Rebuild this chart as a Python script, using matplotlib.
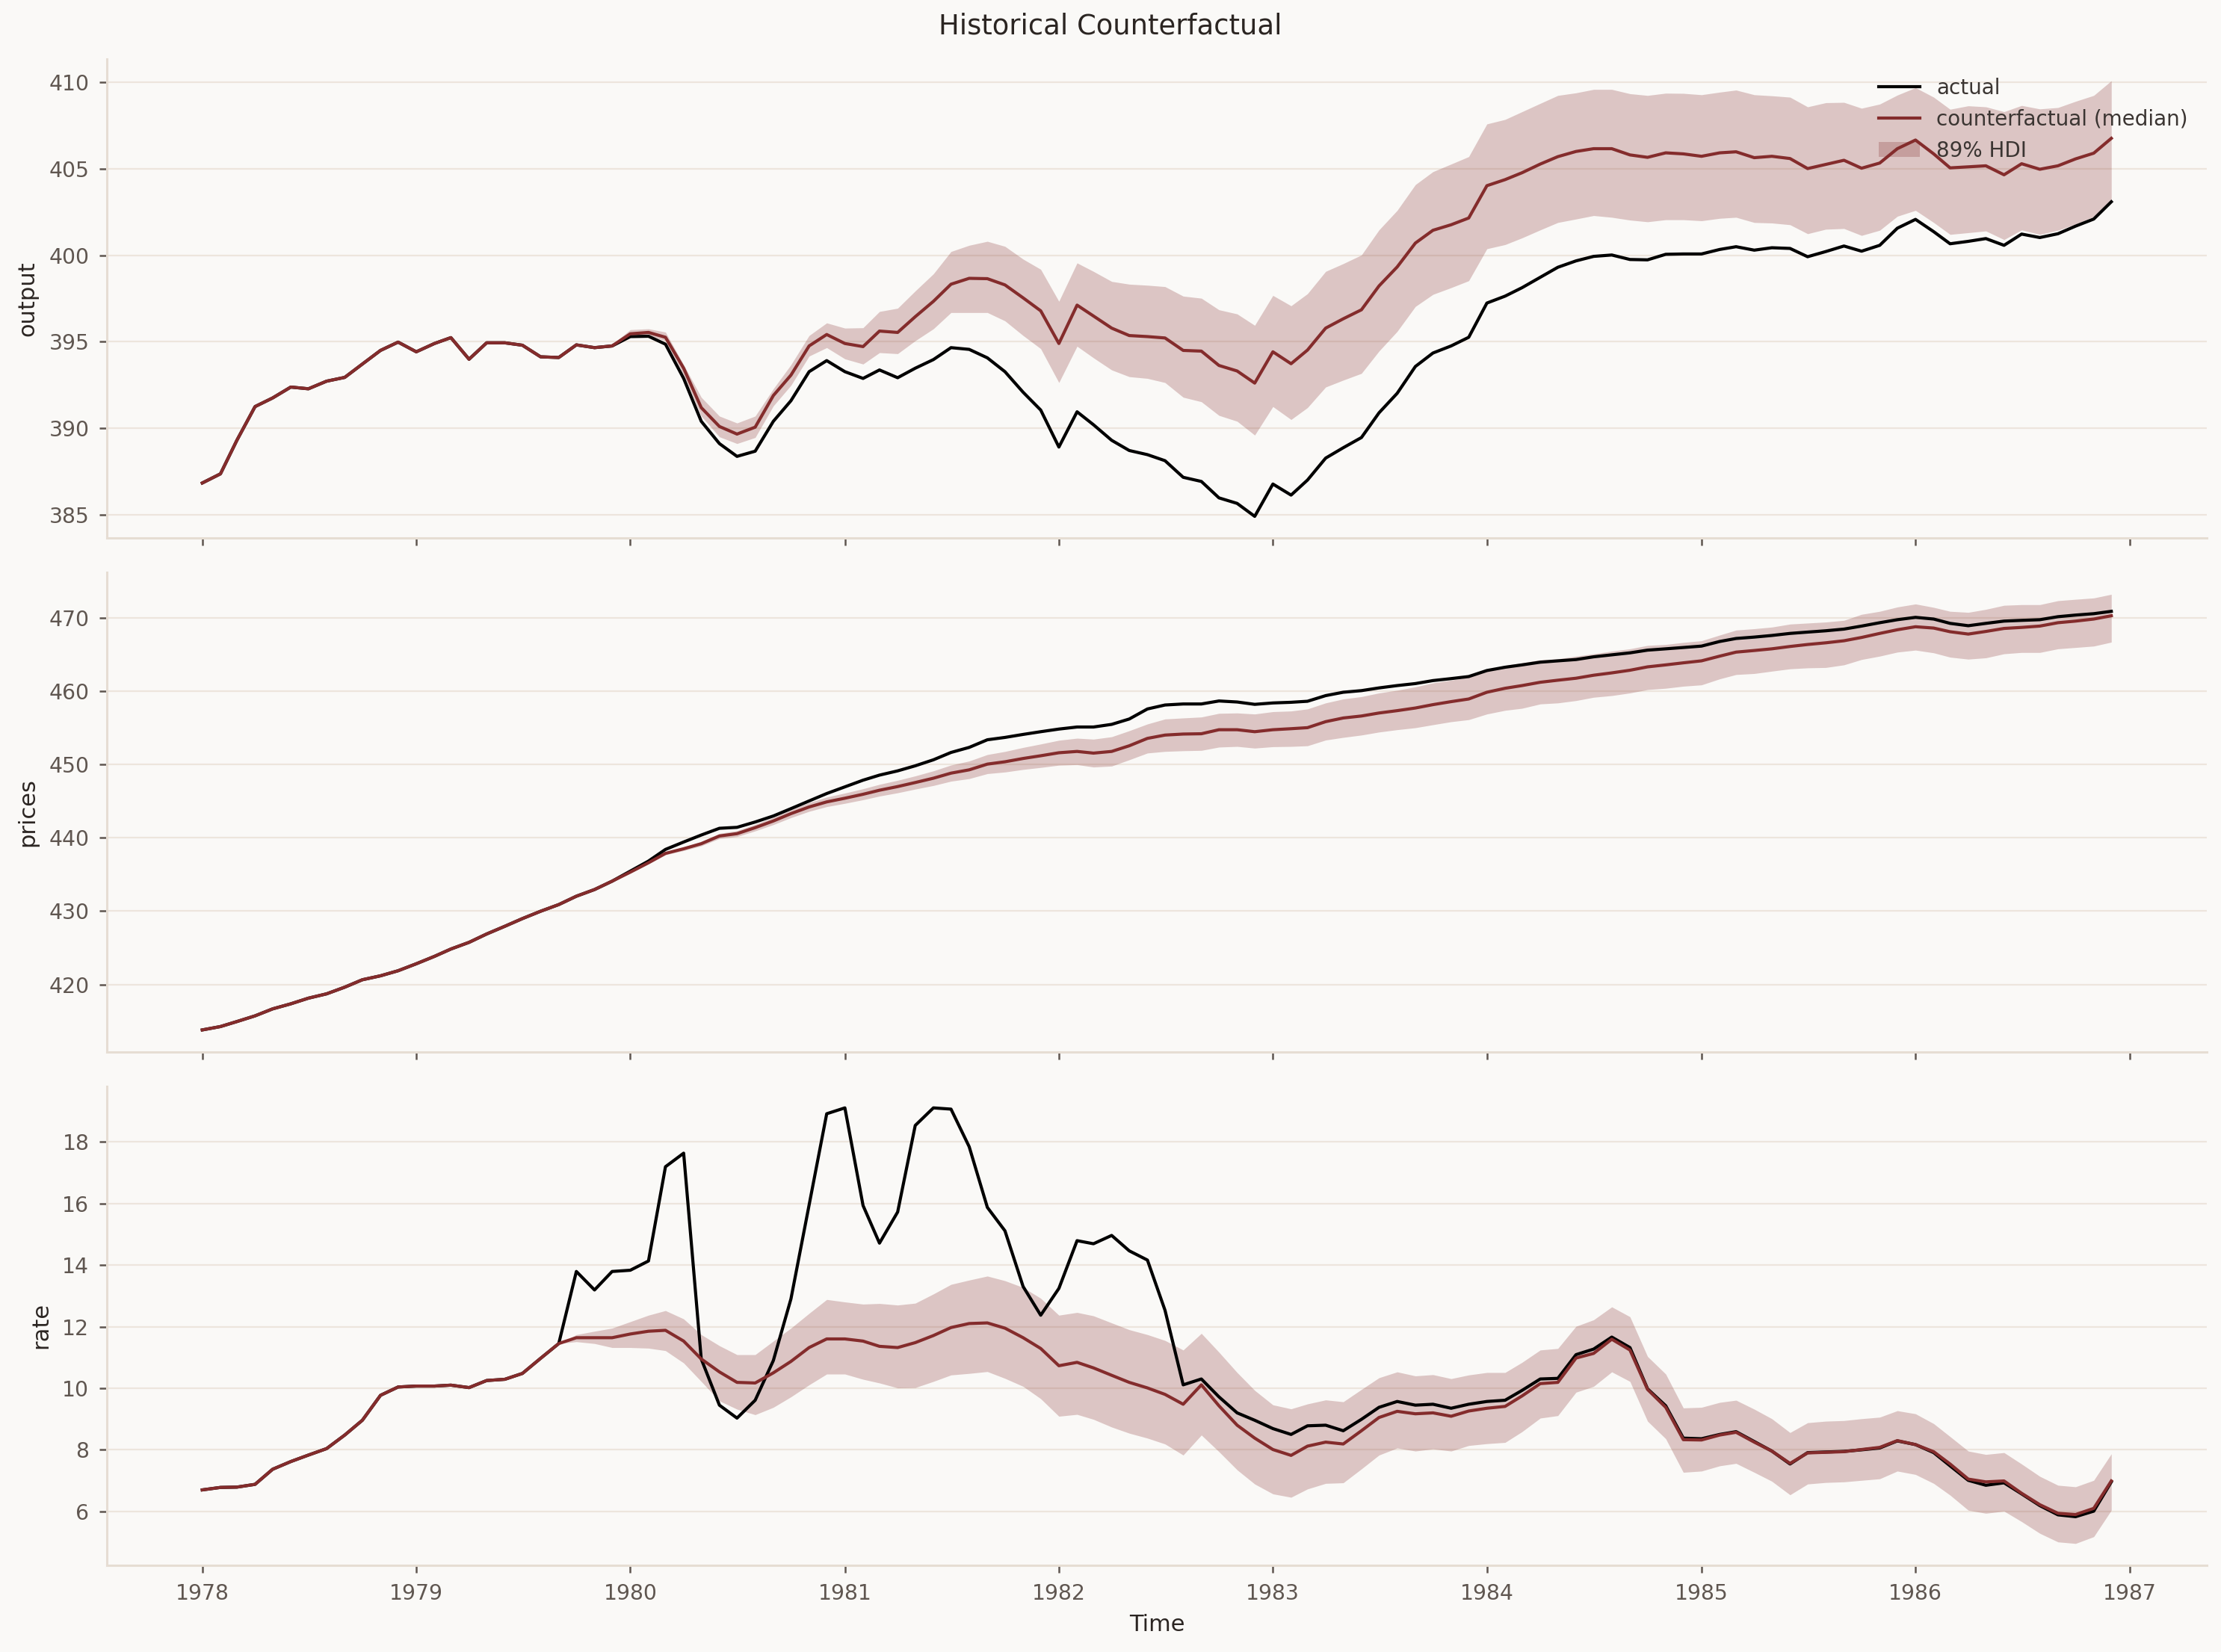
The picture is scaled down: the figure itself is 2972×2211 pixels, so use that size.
import matplotlib
matplotlib.use("Agg")
import matplotlib.pyplot as plt
import matplotlib.dates as mdates
from matplotlib.ticker import MultipleLocator
import pandas as pd

# ---------------- data ----------------
dates = pd.date_range("1978-01-01", periods=108, freq="MS")
hdi_start = 20  # HDI band drawn from 1979-09 onwards

output_actual = [
    386.83, 387.36, 389.3, 391.25, 391.75, 392.38, 392.28, 392.72, 392.94, 393.71, 394.5, 394.98,
    394.42, 394.9, 395.24, 393.99, 394.94, 394.94, 394.8, 394.13, 394.09, 394.82, 394.66, 394.76,
    395.3, 395.32, 394.86, 392.88, 390.4, 389.11, 388.37, 388.67, 390.4, 391.59, 393.27, 393.91,
    393.27, 392.88, 393.37, 392.92, 393.47, 393.97, 394.66, 394.56, 394.07, 393.27, 392.08, 391.05,
    388.91, 390.95, 390.2, 389.3, 388.71, 388.47, 388.12, 387.16, 386.92, 385.97, 385.65, 384.9,
    386.77, 386.13, 387.0, 388.27, 388.87, 389.46, 390.89, 392.02, 393.57, 394.35, 394.76, 395.26,
    397.24, 397.64, 398.13, 398.73, 399.31, 399.68, 399.94, 400.02, 399.76, 399.74, 400.06, 400.08,
    400.08, 400.34, 400.5, 400.3, 400.44, 400.4, 399.92, 400.22, 400.54, 400.24, 400.58, 401.57,
    402.08, 401.37, 400.67, 400.81, 400.97, 400.58, 401.23, 401.03, 401.25, 401.69, 402.1, 403.1]

output_cf = [
    386.83, 387.36, 389.3, 391.25, 391.75, 392.38, 392.28, 392.72, 392.94, 393.71, 394.5, 394.98,
    394.42, 394.9, 395.24, 393.99, 394.94, 394.94, 394.8, 394.13, 394.09, 394.82, 394.66, 394.76,
    395.46, 395.54, 395.26, 393.47, 391.19, 390.1, 389.66, 390.06, 391.89, 393.07, 394.76, 395.42,
    394.9, 394.72, 395.62, 395.54, 396.45, 397.34, 398.33, 398.67, 398.65, 398.29, 397.54, 396.79,
    394.9, 397.12, 396.49, 395.79, 395.36, 395.3, 395.22, 394.5, 394.46, 393.63, 393.31, 392.61,
    394.42, 393.73, 394.52, 395.79, 396.33, 396.85, 398.23, 399.33, 400.71, 401.45, 401.77, 402.16,
    404.03, 404.38, 404.78, 405.28, 405.71, 406.01, 406.17, 406.17, 405.81, 405.67, 405.93, 405.87,
    405.73, 405.93, 405.99, 405.65, 405.73, 405.6, 405.02, 405.26, 405.5, 405.04, 405.34, 406.17,
    406.67, 405.87, 405.06, 405.12, 405.18, 404.66, 405.3, 404.98, 405.18, 405.58, 405.91, 406.77]

output_hdi_low = [
    394.08, 394.8, 394.6, 394.68,
    395.26, 395.36, 395.06, 393.07, 390.7, 389.5, 389.11, 389.46, 391.29, 392.48, 394.17, 394.66,
    394.01, 393.71, 394.37, 394.31, 395.06, 395.75, 396.69, 396.69, 396.69, 396.21, 395.36, 394.6,
    392.64, 394.74, 394.07, 393.37, 392.98, 392.88, 392.64, 391.79, 391.53, 390.74, 390.4, 389.6,
    391.25, 390.5, 391.19, 392.38, 392.78, 393.17, 394.46, 395.6, 397.04, 397.74, 398.13, 398.53,
    400.38, 400.62, 401.01, 401.47, 401.9, 402.1, 402.3, 402.2, 402.04, 401.94, 402.06, 402.06,
    402.0, 402.14, 402.2, 401.9, 401.87, 401.77, 401.25, 401.51, 401.55, 401.15, 401.45, 402.26,
    402.6, 401.9, 401.21, 401.31, 401.41, 400.91, 401.47, 401.21, 401.45, 401.81, 402.24, 403.19]

output_hdi_high = [
    394.1, 394.85, 394.72, 394.85,
    395.7, 395.75, 395.56, 393.67, 391.79, 390.7, 390.3, 390.7, 392.28, 393.67, 395.36, 396.09,
    395.79, 395.81, 396.75, 396.94, 397.94, 398.93, 400.22, 400.58, 400.81, 400.52, 399.78, 399.19,
    397.34, 399.56, 399.07, 398.49, 398.33, 398.27, 398.19, 397.64, 397.52, 396.85, 396.61, 395.95,
    397.68, 397.08, 397.78, 399.07, 399.52, 400.02, 401.47, 402.6, 404.09, 404.84, 405.28, 405.71,
    407.6, 407.86, 408.31, 408.79, 409.25, 409.4, 409.6, 409.6, 409.35, 409.25, 409.38, 409.37,
    409.29, 409.44, 409.56, 409.29, 409.23, 409.15, 408.59, 408.83, 408.85, 408.51, 408.75, 409.27,
    409.7, 409.15, 408.45, 408.65, 408.59, 408.31, 408.67, 408.47, 408.55, 408.91, 409.25, 410.1]

prices_actual = [
    413.8, 414.26, 414.94, 415.72, 416.67, 417.36, 418.13, 418.72, 419.63, 420.64, 421.18, 421.87,
    422.82, 423.83, 424.83, 425.74, 426.88, 427.93, 428.98, 429.98, 430.89, 432.03, 432.94, 434.08,
    435.45, 436.82, 438.41, 439.42, 440.37, 441.29, 441.42, 442.15, 442.97, 443.97, 445.02, 446.03,
    446.94, 447.85, 448.54, 449.12, 449.81, 450.63, 451.63, 452.32, 453.36, 453.68, 454.09, 454.46,
    454.82, 455.1, 455.1, 455.46, 456.19, 457.56, 458.1, 458.24, 458.24, 458.65, 458.51, 458.19,
    458.38, 458.47, 458.61, 459.38, 459.84, 460.06, 460.43, 460.75, 461.02, 461.43, 461.7, 461.98,
    462.8, 463.25, 463.57, 463.94, 464.12, 464.3, 464.67, 464.94, 465.21, 465.58, 465.76, 465.94,
    466.13, 466.76, 467.17, 467.36, 467.58, 467.86, 468.04, 468.22, 468.45, 468.86, 469.32, 469.73,
    470.05, 469.82, 469.23, 468.91, 469.23, 469.54, 469.64, 469.73, 470.14, 470.36, 470.55, 470.87]

prices_cf = [
    413.8, 414.26, 414.94, 415.72, 416.67, 417.36, 418.13, 418.72, 419.63, 420.64, 421.18, 421.87,
    422.82, 423.83, 424.83, 425.74, 426.88, 427.93, 428.98, 429.98, 430.89, 432.03, 432.94, 434.08,
    435.31, 436.59, 437.87, 438.5, 439.19, 440.24, 440.56, 441.38, 442.29, 443.29, 444.2, 444.89,
    445.39, 445.93, 446.48, 446.98, 447.53, 448.12, 448.81, 449.26, 450.04, 450.36, 450.81, 451.18,
    451.59, 451.77, 451.54, 451.77, 452.54, 453.55, 454.0, 454.14, 454.18, 454.73, 454.73, 454.46,
    454.73, 454.87, 455.01, 455.83, 456.33, 456.6, 457.01, 457.33, 457.69, 458.15, 458.56, 458.92,
    459.84, 460.38, 460.75, 461.2, 461.48, 461.75, 462.16, 462.48, 462.84, 463.3, 463.57, 463.85,
    464.12, 464.76, 465.31, 465.53, 465.76, 466.08, 466.35, 466.58, 466.86, 467.31, 467.86, 468.36,
    468.77, 468.59, 468.09, 467.77, 468.13, 468.54, 468.68, 468.86, 469.32, 469.54, 469.82, 470.27]

prices_hdi_low = [
    430.89, 432.01, 432.89, 434.0,
    435.19, 436.44, 437.67, 438.25, 438.89, 439.89, 440.16, 440.93, 441.79, 442.74, 443.6, 444.24,
    444.69, 445.18, 445.68, 446.13, 446.63, 447.12, 447.71, 448.06, 448.74, 448.96, 449.31, 449.58,
    449.89, 449.97, 449.64, 449.77, 450.63, 451.55, 451.77, 451.86, 451.91, 452.36, 452.45, 452.22,
    452.41, 452.45, 452.54, 453.32, 453.68, 454.0, 454.41, 454.73, 455.0, 455.41, 455.82, 456.1,
    456.87, 457.37, 457.65, 458.24, 458.38, 458.7, 459.15, 459.38, 459.74, 460.2, 460.38, 460.66,
    460.84, 461.66, 462.25, 462.39, 462.71, 463.03, 463.16, 463.21, 463.57, 464.3, 464.76, 465.31,
    465.58, 465.21, 464.62, 464.35, 464.53, 465.08, 465.26, 465.26, 465.76, 465.94, 466.13, 466.67]

prices_hdi_high = [
    430.89, 432.05, 432.99, 434.16,
    435.43, 436.74, 438.07, 438.75, 439.49, 440.59, 440.96, 441.83, 442.79, 443.84, 444.8, 445.54,
    446.09, 446.68, 447.28, 447.83, 448.43, 449.12, 449.91, 450.46, 451.34, 451.76, 452.31, 452.78,
    453.29, 453.57, 453.44, 453.77, 454.59, 455.51, 456.19, 456.33, 456.46, 456.96, 457.01, 456.87,
    457.19, 457.28, 457.56, 458.38, 458.92, 459.24, 459.74, 460.11, 460.57, 461.11, 461.48, 461.89,
    462.94, 463.49, 463.85, 464.26, 464.39, 464.76, 465.08, 465.44, 465.76, 466.22, 466.35, 466.63,
    466.86, 467.63, 468.31, 468.5, 468.72, 469.13, 469.27, 469.41, 469.64, 470.46, 470.87, 471.46,
    471.87, 471.41, 470.87, 470.73, 471.14, 471.69, 471.78, 471.78, 472.32, 472.51, 472.69, 473.19]

rate_actual = [
    6.70, 6.78, 6.79, 6.88, 7.37, 7.62, 7.83, 8.04, 8.48, 8.96, 9.77, 10.04,
    10.07, 10.07, 10.1, 10.02, 10.25, 10.29, 10.48, 10.97, 11.45, 13.79, 13.19, 13.79,
    13.83, 14.13, 17.19, 17.63, 10.95, 9.45, 9.03, 9.61, 10.9, 12.9, 15.95, 18.91,
    19.1, 15.93, 14.71, 15.72, 18.53, 19.1, 19.06, 17.84, 15.87, 15.11, 13.3, 12.37,
    13.24, 14.79, 14.69, 14.96, 14.46, 14.16, 12.53, 10.11, 10.3, 9.72, 9.2, 8.96,
    8.69, 8.5, 8.78, 8.8, 8.62, 8.99, 9.38, 9.57, 9.45, 9.48, 9.35, 9.48,
    9.57, 9.61, 9.93, 10.3, 10.32, 11.09, 11.27, 11.66, 11.32, 9.98, 9.43, 8.38,
    8.36, 8.5, 8.59, 8.27, 7.96, 7.54, 7.91, 7.93, 7.95, 8.0, 8.06, 8.29,
    8.17, 7.91, 7.48, 7.01, 6.85, 6.93, 6.57, 6.19, 5.89, 5.83, 6.01, 6.96]

rate_cf = [
    6.70, 6.78, 6.79, 6.88, 7.37, 7.62, 7.83, 8.04, 8.48, 8.96, 9.77, 10.04,
    10.07, 10.07, 10.1, 10.02, 10.25, 10.29, 10.48, 10.97, 11.45, 11.64, 11.64, 11.64,
    11.76, 11.85, 11.88, 11.53, 10.95, 10.53, 10.19, 10.17, 10.5, 10.87, 11.32, 11.6,
    11.6, 11.53, 11.36, 11.32, 11.48, 11.71, 11.97, 12.1, 12.12, 11.95, 11.64, 11.29,
    10.73, 10.84, 10.66, 10.42, 10.19, 10.01, 9.8, 9.48, 10.11, 9.43, 8.8, 8.38,
    8.01, 7.82, 8.12, 8.25, 8.19, 8.62, 9.05, 9.25, 9.17, 9.2, 9.09, 9.26,
    9.35, 9.41, 9.75, 10.15, 10.19, 10.98, 11.13, 11.59, 11.24, 9.96, 9.38, 8.33,
    8.32, 8.48, 8.57, 8.25, 7.96, 7.56, 7.9, 7.92, 7.94, 8.01, 8.08, 8.3,
    8.17, 7.94, 7.54, 7.05, 6.96, 6.99, 6.59, 6.22, 5.94, 5.9, 6.1, 6.99]

rate_hdi_low = [
    11.45, 11.51, 11.45, 11.32,
    11.32, 11.3, 11.22, 10.82, 10.22, 9.59, 9.32, 9.14, 9.38, 9.72, 10.11, 10.46,
    10.46, 10.29, 10.17, 10.01, 10.02, 10.22, 10.43, 10.48, 10.54, 10.32, 10.06, 9.66,
    9.09, 9.15, 8.99, 8.74, 8.54, 8.38, 8.19, 7.83, 8.48, 7.94, 7.35, 6.89,
    6.57, 6.46, 6.73, 6.91, 6.93, 7.38, 7.83, 8.06, 7.96, 8.03, 7.96, 8.14,
    8.2, 8.24, 8.59, 9.03, 9.11, 9.87, 10.06, 10.53, 10.22, 8.93, 8.36, 7.27,
    7.31, 7.48, 7.56, 7.27, 6.98, 6.54, 6.89, 6.94, 6.96, 7.01, 7.06, 7.31,
    7.2, 6.91, 6.53, 6.04, 5.94, 6.01, 5.67, 5.29, 5.01, 4.96, 5.18, 6.04]

rate_hdi_high = [
    11.45, 11.74, 11.85, 11.95,
    12.16, 12.37, 12.52, 12.25, 11.74, 11.38, 11.09, 11.09, 11.53, 11.95, 12.43, 12.88,
    12.8, 12.73, 12.75, 12.7, 12.76, 13.06, 13.37, 13.51, 13.64, 13.49, 13.27, 12.92,
    12.37, 12.46, 12.35, 12.12, 11.9, 11.74, 11.55, 11.24, 11.78, 11.17, 10.51, 9.93,
    9.46, 9.33, 9.49, 9.62, 9.56, 9.96, 10.34, 10.53, 10.4, 10.44, 10.31, 10.43,
    10.51, 10.51, 10.84, 11.24, 11.29, 12.01, 12.22, 12.64, 12.32, 11.03, 10.46, 9.36,
    9.38, 9.54, 9.61, 9.32, 9.01, 8.56, 8.88, 8.93, 8.95, 9.01, 9.06, 9.27,
    9.17, 8.85, 8.43, 7.96, 7.85, 7.91, 7.54, 7.14, 6.85, 6.8, 7.01, 7.87]

panels = [
    ("output", output_actual, output_cf, output_hdi_low, output_hdi_high, 5),
    ("prices", prices_actual, prices_cf, prices_hdi_low, prices_hdi_high, 10),
    ("rate", rate_actual, rate_cf, rate_hdi_low, rate_hdi_high, 2),
]

# ---------------- style ----------------
BG = "#faf9f7"
CF = "#842c2c"
SPINE = "#e6ddd3"
GRID = "#ede5dd"
TICK = "#5f5650"
TEXT = "#2b2522"

plt.rcParams.update({
    "font.family": ["DejaVu Sans"],
    "figure.facecolor": BG,
    "axes.facecolor": BG,
    "savefig.facecolor": BG,
})

fig, axes = plt.subplots(3, 1, sharex=True, figsize=(14.86, 11.055), dpi=200)
fig.subplots_adjust(left=0.0481, right=0.9936, top=0.9643, bottom=0.0525, hspace=0.0718)

for ax, (name, actual, cf, lo, hi, step) in zip(axes, panels):
    band = ax.fill_between(dates[hdi_start:], lo, hi, color=CF, alpha=0.25,
                           linewidth=0, label="89% HDI", zorder=1)
    la, = ax.plot(dates, actual, color="black", lw=1.5, label="actual", zorder=2)
    lc, = ax.plot(dates, cf, color=CF, lw=1.5, label="counterfactual (median)", zorder=3)
    ax.set_ylabel(name, fontsize=11, color=TEXT, labelpad=5)
    ax.yaxis.set_major_locator(MultipleLocator(step))
    ax.grid(axis="y", color=GRID, linewidth=0.8)
    ax.grid(axis="x", visible=False)
    ax.set_axisbelow(True)
    for s in ("top", "right"):
        ax.spines[s].set_visible(False)
    for s in ("left", "bottom"):
        ax.spines[s].set_color(SPINE)
        ax.spines[s].set_linewidth(1.1)
    ax.tick_params(axis="both", colors=TICK, labelsize=10.2, length=3.5, width=0.9, pad=5)
    if name == "output":
        leg = ax.legend(handles=[la, lc, band], loc="upper right", frameon=False, fontsize=10)
        for t in leg.get_texts():
            t.set_color("#3b3532")

axes[-1].xaxis.set_major_locator(mdates.YearLocator())
axes[-1].xaxis.set_major_formatter(mdates.DateFormatter("%Y"))
axes[-1].set_xlabel("Time", fontsize=11, color=TEXT, labelpad=5)

fig.suptitle("Historical Counterfactual", fontsize=13.3, color=TEXT, y=0.984, va="center")

fig.savefig("out.png", dpi=200)
